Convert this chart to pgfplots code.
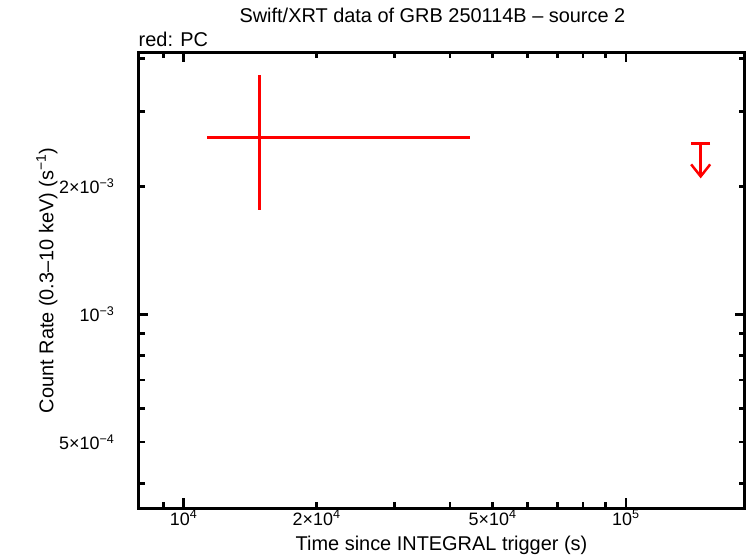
\documentclass[border=0pt]{standalone}
\usepackage{fontspec}
\setmainfont{Liberation Sans}
\usepackage{pgfplots}
\pgfplotsset{compat=1.18}
\usetikzlibrary{arrows.meta}
\begin{document}
\begin{tikzpicture}
\useasboundingbox (-138.5bp,-50bp) rectangle (607.5bp,508bp);
\begin{axis}[
  at={(0,0)}, anchor=south west,
  scale only axis, width=606bp, height=455.5bp,
  xmode=log, ymode=log,
  xmin=7910, xmax=185600, ymin=3.50e-4, ymax=4.13e-3,
  axis line style={line width=3bp},
  tick style={line width=2.5bp, black},
  major tick length=10bp, minor tick length=6bp,
  tick align=inside,
  xtick={1e4,1e5},
  xticklabels={10\textsuperscript{4},10\textsuperscript{5}},
  extra x ticks={2e4,5e4},
  extra x tick labels={2×10\textsuperscript{4},5×10\textsuperscript{4}},
  extra x tick style={major tick length=6bp},
  minor xtick={9000,3e4,4e4,6e4,7e4,8e4,9e4},
  ytick={1e-3},
  yticklabels={10\textsuperscript{−3}},
  extra y ticks={5e-4,2e-3},
  extra y tick labels={5×10\textsuperscript{−4},2×10\textsuperscript{−3}},
  extra y tick style={major tick length=6bp},
  minor ytick={4e-4,6e-4,7e-4,8e-4,9e-4,3e-3,4e-3},
  ticklabel style={font=\fontsize{18}{18}\selectfont},
  xticklabel style={inner sep=0pt, anchor=north, yshift=-2bp},
  yticklabel style={inner sep=0pt, anchor=east, xshift=-24bp},
  xlabel={Time since INTEGRAL trigger (s)},
  xlabel style={font=\fontsize{20}{20}\selectfont, at={(axis description cs:0.5,0)}, anchor=base, yshift=-42bp},
  ylabel={Count Rate (0.3–10 keV) (s\textsuperscript{−1})},
  ylabel style={font=\fontsize{20}{20}\selectfont, at={(axis description cs:-0.151,0.5)}, anchor=center},
  title={Swift/XRT data of GRB 250114B – source 2},
  title style={font=\fontsize{20}{20}\selectfont, at={(axis description cs:0.485,1)}, anchor=base, yshift=24.5bp},
  clip=false,
]
\addplot[draw=none, mark=none,
  error bars/.cd, x dir=both, x explicit, y dir=both, y explicit,
  error mark=none, error bar style={line width=3bp, draw=red}]
  coordinates {(14845,2.607e-3) += (29605,1.043e-3) -= (3575,0.851e-3)};
\addplot[red, line width=3bp, only marks, mark=-, mark size=9.5bp, mark options={line width=3bp},
  error bars/.cd, y dir=minus, y explicit,
  error mark=none, error bar style={line width=2.5bp, red, -{Straight Barb[length=12bp, width=19bp]}}]
  coordinates {(147700,2.52e-3) -= (0,0.432e-3)};
\node[anchor=base west, font=\fontsize{20}{20}\selectfont, inner sep=0pt] at (rel axis cs:0,1) [yshift=6bp] {red: PC};
\end{axis}
\end{tikzpicture}
\end{document}
